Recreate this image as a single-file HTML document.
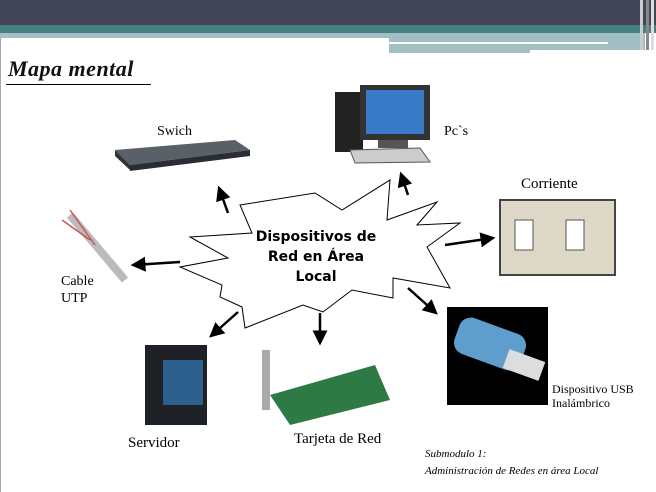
<!DOCTYPE html><html><head><style>
body{margin:0;width:656px;height:492px;overflow:hidden;background:#fff;font-family:"Liberation Serif",serif;position:relative}
.a{position:absolute}
</style></head><body>
<div class="a" style="left:0;top:0;width:656px;height:25px;background:#424458"></div>
<div class="a" style="left:0;top:25px;width:656px;height:8px;background:#447f84"></div>
<div class="a" style="left:0;top:33px;width:389px;height:5px;background:#a3bfc3"></div>
<div class="a" style="left:389px;top:33px;width:256px;height:20px;background:#a3bfc3"></div>
<div class="a" style="left:389px;top:42px;width:219px;height:2px;background:#fff"></div>
<div class="a" style="left:530px;top:50px;width:115px;height:3px;background:#fff"></div>
<div class="a" style="left:640px;top:0;width:3px;height:50px;background:#ccc"></div>
<div class="a" style="left:646px;top:0;width:3px;height:50px;background:#888"></div>
<div class="a" style="left:651px;top:0;width:3px;height:50px;background:#ddd"></div>
<div class="a" style="left:0;top:38px;width:1px;height:454px;background:#9ab"></div>
<div class="a" style="left:8px;top:56px;font:italic bold 22px 'Liberation Serif',serif;color:#111;letter-spacing:0.5px">Mapa mental</div>
<div class="a" style="left:6px;top:84px;width:145px;height:1px;background:#000"></div>
<svg class="a" style="left:0;top:0" width="656" height="492">
<defs><marker id="m" markerWidth="6" markerHeight="6" refX="5" refY="3" orient="auto"><path d="M0,0L6,3L0,6z" fill="#000"/></marker></defs>
<polygon points="240,205 315,193 342,210 390,180 387,220 437,202 417,225 460,223 427,247 450,288 393,278 393,298 352,290 323,312 303,305 245,328 242,307 220,297 222,285 180,267 228,258 190,237 252,233" fill="#fff" stroke="#000" stroke-width="1"/>
<g stroke="#000" stroke-width="2.5" marker-end="url(#m)">
<line x1="228" y1="213" x2="219" y2="188"/><line x1="408" y1="195" x2="401" y2="174"/>
<line x1="445" y1="245" x2="493" y2="238"/><line x1="408" y1="288" x2="436" y2="313"/>
<line x1="320" y1="313" x2="320" y2="343"/><line x1="238" y1="312" x2="211" y2="336"/>
<line x1="180" y1="262" x2="133" y2="265"/></g>
<polygon points="115,150 235,140 250,150 130,165" fill="#5a6068"/><polygon points="115,150 130,165 130,170 115,156" fill="#333"/><polygon points="130,165 250,150 250,156 130,171" fill="#2a2d33"/>
<rect x="335" y="92" width="28" height="60" fill="#222"/><rect x="360" y="85" width="70" height="55" fill="#333"/><rect x="366" y="90" width="58" height="44" fill="#3a7bc8"/><rect x="378" y="140" width="30" height="8" fill="#555"/><polygon points="350,150 420,148 430,162 355,163" fill="#ccc" stroke="#555"/>
<rect x="500" y="200" width="115" height="75" fill="#ddd8c8" stroke="#444" stroke-width="2"/><rect x="515" y="220" width="18" height="30" fill="#fff" stroke="#555"/><rect x="566" y="220" width="18" height="30" fill="#fff" stroke="#555"/>
<rect x="447" y="307" width="101" height="98" fill="#000"/><rect x="455" y="325" width="70" height="38" rx="12" fill="#5f9ecc" transform="rotate(20 490 344)"/><rect x="505" y="355" width="38" height="20" fill="#ddd" transform="rotate(20 524 365)"/>
<rect x="145" y="345" width="62" height="80" fill="#1e2226"/><rect x="163" y="360" width="40" height="45" fill="#2d5f8c"/>
<polygon points="270,395 375,365 390,400 290,425" fill="#2d7a45"/><rect x="262" y="350" width="8" height="60" fill="#aaa"/>
<line x1="70" y1="215" x2="125" y2="280" stroke="#bbb" stroke-width="8"/><g stroke="#c55" stroke-width="1.5"><line x1="62" y1="220" x2="90" y2="240"/><line x1="70" y1="210" x2="95" y2="245"/></g>
</svg>
<div class="a" style="left:157px;top:124px;font-size:14px">Swich</div>
<div class="a" style="left:444px;top:124px;font-size:14px">Pc`s</div>
<div class="a" style="left:521px;top:176px;font-size:15px">Corriente</div>
<div class="a" style="left:61px;top:273px;font-size:14px;line-height:17px">Cable<br>UTP</div>
<div class="a" style="left:552px;top:382px;font-size:12px;line-height:14px">Dispositivo USB<br>Inalámbrico</div>
<div class="a" style="left:128px;top:435px;font-size:15px">Servidor</div>
<div class="a" style="left:294px;top:431px;font-size:15px">Tarjeta de Red</div>
<div class="a" style="left:246px;top:227px;width:140px;text-align:center;font:bold 14px 'DejaVu Sans',sans-serif;line-height:20px">Dispositivos de Red en Área Local</div>
<div class="a" style="left:425px;top:446px;font:italic 11px 'Liberation Serif',serif;line-height:17px">Submodulo 1:<br>Administración de Redes en área Local</div>
</body></html>
